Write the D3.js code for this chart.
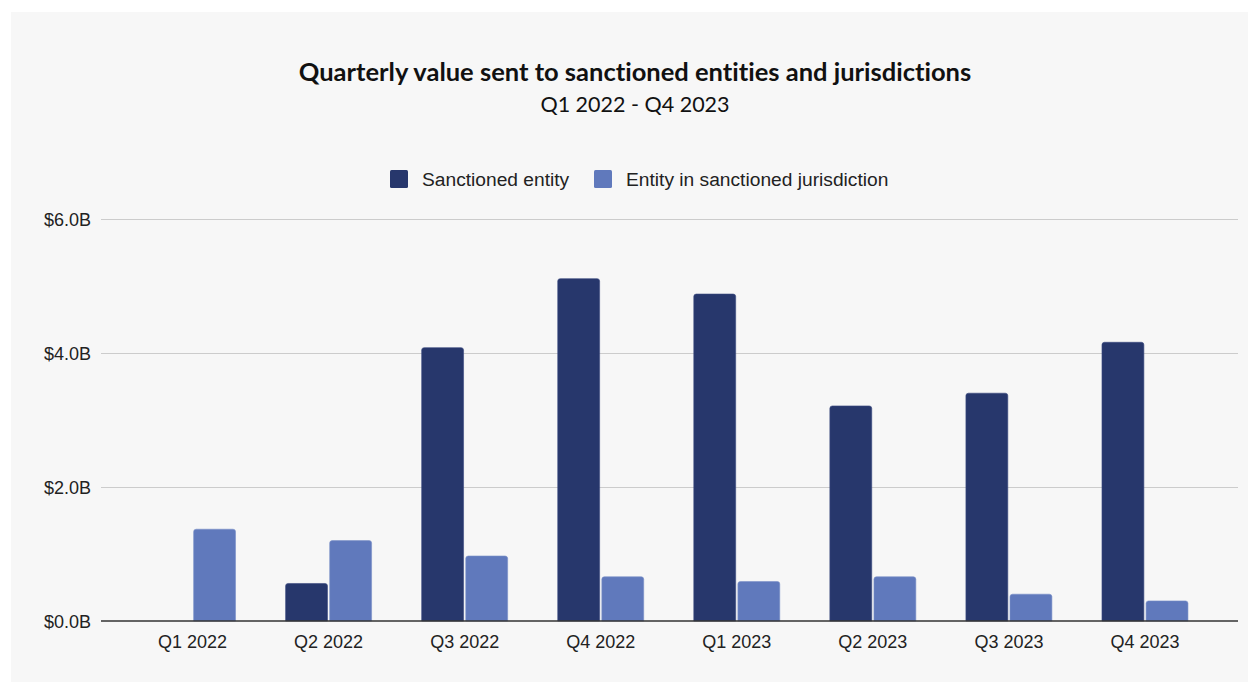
<!DOCTYPE html>
<html>
<head>
<meta charset="utf-8">
<script src="https://cdn.jsdelivr.net/npm/d3@7/dist/d3.min.js"></script>
<style>
  html, body { margin: 0; padding: 0; background: #ffffff; }
  svg { display: block; }
  text { font-variant-ligatures: none; font-feature-settings: "liga" 0, "dlig" 0; }
</style>
</head>
<body>
<svg id="chart" width="1248" height="682"></svg>
<script>
// Quarterly values, in billions of USD
const quarters = ["Q1 2022", "Q2 2022", "Q3 2022", "Q4 2022", "Q1 2023", "Q2 2023", "Q3 2023", "Q4 2023"];
const sanctionedEntity = [0, 0.56, 4.08, 5.11, 4.88, 3.21, 3.40, 4.16];
const sanctionedJurisdiction = [1.37, 1.20, 0.97, 0.66, 0.59, 0.66, 0.40, 0.30];
const seriesNames = ["Sanctioned entity", "Entity in sanctioned jurisdiction"];
const yTicks = [0, 2, 4, 6];

const colors = ["#27376c", "#6079bc"];

const svg = d3.select("#chart");
const W = 1248, H = 682;

// Panel background
svg.append("rect")
  .attr("x", 11).attr("y", 12)
  .attr("width", W - 11).attr("height", H - 12)
  .attr("fill", "#f7f7f7");

// Title and subtitle
svg.append("text")
  .attr("x", 635).attr("y", 81)
  .attr("text-anchor", "middle")
  .attr("font-family", "Lato, 'Noto Sans', sans-serif")
  .attr("font-weight", 700)
  .attr("font-size", 25.5)
  .attr("fill", "#111")
  .text("Quarterly value sent to sanctioned entities and jurisdictions");

svg.append("text")
  .attr("x", 635).attr("y", 112)
  .attr("text-anchor", "middle")
  .attr("font-family", "Lato, 'Noto Sans', sans-serif")
  .attr("font-size", 21.5)
  .attr("fill", "#111")
  .text("Q1 2022 - Q4 2023");

// Scales
const y = d3.scaleLinear().domain([0, 6]).range([621, 219]);
const x = d3.scaleBand().domain(quarters).range([124.5, 1213]).paddingInner(0.368).paddingOuter(0.184);
const xs = d3.scaleBand().domain([0, 1]).range([0, x.bandwidth()]).paddingInner(0.05);

const axisFont = "'Liberation Sans', Arial, sans-serif";

// Gridlines
svg.append("g")
  .selectAll("line")
  .data(yTicks.filter(d => d > 0))
  .join("line")
  .attr("x1", 101).attr("x2", 1238)
  .attr("y1", d => Math.round(y(d)) + 0.5)
  .attr("y2", d => Math.round(y(d)) + 0.5)
  .attr("stroke", "#cccccc")
  .attr("stroke-width", 1);

// Y axis labels
const yAxis = d3.axisLeft(y).tickValues(yTicks).tickSize(0).tickPadding(0)
  .tickFormat(d => "$" + d.toFixed(1) + "B");
svg.append("g")
  .attr("transform", "translate(91,0)")
  .call(yAxis)
  .call(g => g.select(".domain").remove())
  .call(g => g.selectAll("text")
    .attr("font-family", axisFont)
    .attr("font-size", 18)
    .attr("fill", "#222")
    .attr("dy", "0.34em"));

// Rounded-top bar path
function barPath(x0, w, yTop, yBase, r) {
  const h = yBase - yTop;
  if (h <= 0) return "";
  r = Math.min(r, h, w / 2);
  return `M${x0},${yBase}V${yTop + r}Q${x0},${yTop} ${x0 + r},${yTop}H${x0 + w - r}Q${x0 + w},${yTop} ${x0 + w},${yTop + r}V${yBase}Z`;
}

const rows = quarters.map((q, i) => ({ q, vals: [sanctionedEntity[i], sanctionedJurisdiction[i]] }));

svg.append("g")
  .selectAll("g")
  .data(rows)
  .join("g")
  .attr("transform", d => `translate(${x(d.q)},0)`)
  .selectAll("path")
  .data(d => d.vals.map((v, k) => ({ v, k })))
  .join("path")
  .attr("d", d => barPath(xs(d.k), xs.bandwidth(), y(d.v), y(0), 2.5))
  .attr("fill", d => colors[d.k])
  .attr("stroke", d => d.k === 0 ? "#3a4a80" : "#7a90c8")
  .attr("stroke-width", 0.6);

// Baseline
svg.append("line")
  .attr("x1", 101).attr("x2", 1238)
  .attr("y1", y(0)).attr("y2", y(0))
  .attr("stroke", "#333")
  .attr("stroke-width", 1.5);

// X axis labels
const xAxis = d3.axisBottom(x).tickSize(0).tickPadding(0);
svg.append("g")
  .attr("transform", `translate(0,${y(0)})`)
  .call(xAxis)
  .call(g => g.select(".domain").remove())
  .call(g => g.selectAll("text")
    .attr("font-family", axisFont)
    .attr("font-size", 18)
    .attr("fill", "#222")
    .attr("dy", "27px"));

// Legend
const legend = svg.append("g").attr("font-family", axisFont).attr("font-size", 19.2);
const legendItems = [
  { name: seriesNames[0], x: 390 },
  { name: seriesNames[1], x: 594 }
];
legendItems.forEach((item, k) => {
  legend.append("rect")
    .attr("x", item.x).attr("y", 170)
    .attr("width", 18).attr("height", 18)
    .attr("rx", 1.5)
    .attr("fill", colors[k]);
  legend.append("text")
    .attr("x", item.x + 32).attr("y", 186)
    .attr("fill", "#222")
    .text(item.name);
});
</script>
</body>
</html>
